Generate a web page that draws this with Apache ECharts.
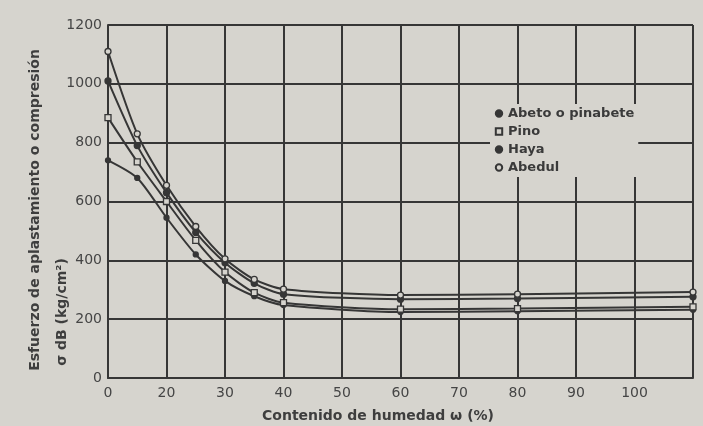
<!DOCTYPE html>
<html>
<head>
<meta charset="utf-8">
<script src="https://cdn.jsdelivr.net/npm/echarts@6/dist/echarts.min.js"></script>
<style>
html,body{margin:0;padding:0;background:#d6d4ce;}
#c{width:703px;height:426px;}
</style>
</head>
<body>
<div id="c"></div>
<script>
// Moisture content (%) of the measured points
const humedad = [0, 10, 20, 25, 30, 35, 40, 60, 80, 110];
// Compression strength (kg/cm2) per species
const abedul = [1110, 830, 655, 515, 405, 335, 302, 282, 285, 292];
const haya   = [1010, 790, 630, 495, 392, 322, 285, 268, 270, 276];
const pino   = [885, 735, 600, 468, 360, 290, 256, 234, 236, 242];
const abeto  = [740, 680, 545, 420, 330, 278, 248, 224, 227, 232];

const seriesNames = ['Abeto o pinabete', 'Pino', 'Haya', 'Abedul'];
// x-axis tick labels (first grid cell spans 0–20 %)
const xTickLabels = ['0', '20', '30', '40', '50', '60', '70', '80', '90', '100', ''];
const yTicks = [0, 200, 400, 600, 800, 1000, 1200];

// position on the printed axis: the first cell covers 0–20 %, others 10 % each
function axisPos(h) { return h <= 20 ? h / 2 : h - 10; }
function pairs(vals) { return humedad.map((h, i) => [axisPos(h), vals[i]]); }

const ink = '#363636';
const bg = '#d6d4ce';
const font = '"DejaVu Sans"';
const chart = echarts.init(document.getElementById('c'));

function mkSeries(name, vals, symbol, size, hollow) {
  return {
    name: name, type: 'line', smooth: 0.25, data: pairs(vals),
    symbol: symbol, symbolSize: size, showSymbol: true,
    lineStyle: {color: ink, width: 2},
    itemStyle: {color: hollow ? bg : ink, borderColor: ink, borderWidth: 1.3},
    emphasis: {disabled: true}, z: 5
  };
}

chart.setOption({
  backgroundColor: bg,
  animation: false,
  grid: {left: 108, right: 10, top: 25, bottom: 48},
  xAxis: {
    type: 'value', min: 0, max: 100, interval: 10,
    axisLine: {show: true, lineStyle: {color: ink, width: 2}},
    axisTick: {show: false},
    splitLine: {show: true, lineStyle: {color: ink, width: 2}},
    axisLabel: {
      color: '#454545', fontSize: 14, fontFamily: font, margin: 8,
      formatter: v => xTickLabels[Math.round(v / 10)]
    }
  },
  yAxis: {
    type: 'value', min: 0, max: 1200, interval: 200,
    axisLine: {show: true, lineStyle: {color: ink, width: 2}},
    axisTick: {show: false},
    splitLine: {show: true, lineStyle: {color: ink, width: 2}},
    axisLabel: {color: '#454545', fontSize: 14, fontFamily: font, margin: 6,
      formatter: v => yTicks.indexOf(v) >= 0 ? String(v) : ''}
  },
  legend: {
    data: seriesNames, orient: 'vertical', left: 490, top: 104,
    itemWidth: 8, itemHeight: 8, itemGap: 5,
    backgroundColor: bg, padding: [3, 4, 3, 4],
    textStyle: {color: '#3a3a3a', fontSize: 13, fontWeight: 'bold', fontFamily: font}
  },
  graphic: [
    {type: 'text', rotation: Math.PI / 2, x: 35, y: 210,
      style: {text: 'Esfuerzo de aplastamiento o compresión', fill: '#3e3e3e',
        font: 'bold 14px "DejaVu Sans"', textAlign: 'center', textVerticalAlign: 'middle'}},
    {type: 'text', rotation: Math.PI / 2, x: 62, y: 312,
      style: {text: 'σ dB (kg/cm²)', fill: '#3e3e3e',
        font: 'bold 14px "DejaVu Sans"', textAlign: 'center', textVerticalAlign: 'middle'}},
    {type: 'text', x: 378, y: 416,
      style: {text: 'Contenido de humedad ω (%)', fill: '#3e3e3e',
        font: 'bold 14px "DejaVu Sans"', textAlign: 'center', textVerticalAlign: 'middle'}}
  ],
  series: [
    mkSeries('Abeto o pinabete', abeto, 'circle', 5, false),
    mkSeries('Pino', pino, 'rect', 6, true),
    mkSeries('Haya', haya, 'circle', 6, false),
    mkSeries('Abedul', abedul, 'circle', 6, true)
  ]
});
</script>
</body>
</html>
